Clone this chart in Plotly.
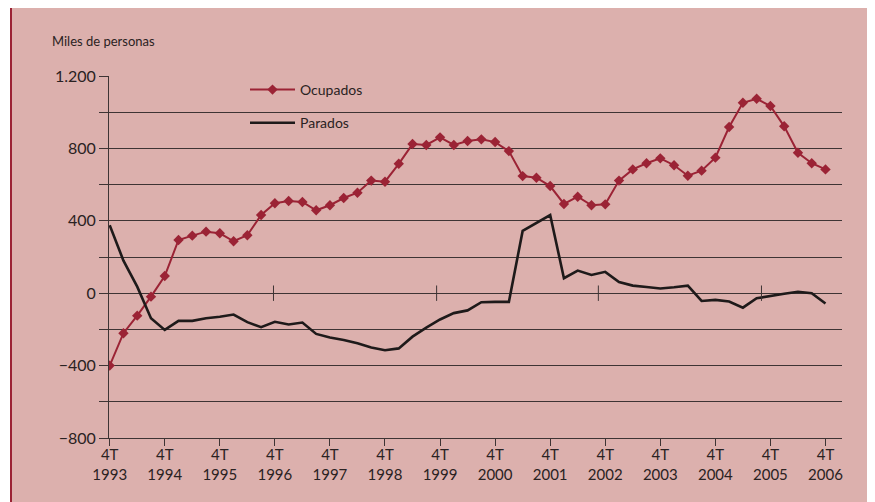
import plotly.graph_objects as go

# ---- data ----
years = list(range(1993, 2007))
x_tick_labels = [f"4T<br>{y}" for y in years]

ocupados = [-400, -221, -124, -19, 95, 294, 318, 340, 331, 287, 320, 432, 497, 509,
            504, 458, 486, 526, 555, 622, 616, 715, 824, 819, 861, 819, 841, 850,
            835, 785, 647, 638, 592, 493, 533, 486, 491, 622, 684, 718, 745, 707,
            649, 677, 749, 918, 1052, 1074, 1034, 922, 776, 718, 684]
parados = [376, 180, 36, -138, -203, -153, -153, -138, -130, -118, -160, -188, -158,
           -173, -162, -225, -245, -258, -277, -300, -315, -305, -240, -190, -145,
           -110, -95, -50, -48, -48, 344, 388, 432, 83, 125, 101, 118, 62, 42, 34,
           26, 33, 42, -43, -37, -46, -80, -28, -14, -3, 8, 0, -57]

y_tick_values = list(range(-800, 1201, 200))
y_tick_labels = ["\u2212800", "", "\u2212400", "", "0", "", "400", "", "800", "", "1.200"]

# positions of the small marks drawn across the zero line (quarter units)
zero_marks = [11.9, 23.75, 35.5, 47.35]

quarters = list(range(len(ocupados)))
x_tick_values = quarters[::4]

# ---- styles ----
PINK = "#dcb0ad"
RED = "#9b2335"
DARK = "#2a2222"
GRID = "#3e3434"
FONT = "Lato"

W, H = 875, 502
OFF = 8  # page body margin of the generated html
PL, PT, PWID, PHGT = 109, 76, 733, 362  # plot area in reference pixels
ML = PL - OFF
MT = PT - OFF
MR = W - ML - PWID
MB = H - MT - PHGT


def px_x(p):
    return (p - PL) / PWID


def px_y(q):
    return (PT + PHGT - q) / PHGT


fig = go.Figure()

fig.add_trace(go.Scatter(
    x=quarters, y=ocupados, name="Ocupados", mode="lines+markers",
    line=dict(color=RED, width=2),
    marker=dict(symbol="diamond", size=8, color=RED),
    legendgroup="a",
))
fig.add_trace(go.Scatter(
    x=quarters, y=parados, name="Parados", mode="lines",
    line=dict(color="#1e1a1a", width=2.6),
    legendgroup="b",
))
fig.add_trace(go.Scatter(
    x=zero_marks, y=[0] * len(zero_marks), mode="markers", showlegend=False,
    hoverinfo="skip",
    marker=dict(symbol="line-ns", size=11, line=dict(width=1, color=GRID)),
))

fig.update_layout(
    width=W, height=H,
    margin=dict(l=ML, r=MR, t=MT, b=MB),
    paper_bgcolor="white",
    plot_bgcolor=PINK,
    font=dict(family=FONT, color=DARK),
    showlegend=True,
    legend=dict(
        x=px_x(245), y=px_y(74), xanchor="left", yanchor="top",
        bgcolor="rgba(0,0,0,0)", font=dict(size=14, color=DARK),
        traceorder="grouped", tracegroupgap=12, itemwidth=45,
    ),
    shapes=[dict(
        type="rect", xref="paper", yref="paper",
        x0=px_x(11), x1=px_x(900), y0=px_y(530), y1=px_y(6),
        fillcolor=PINK, line=dict(color=RED, width=2), layer="below",
    )],
    annotations=[dict(
        text="Miles de personas", xref="paper", yref="paper",
        x=px_x(50), y=px_y(41), xanchor="left", yanchor="middle",
        showarrow=False, font=dict(size=13, color=DARK, family=FONT),
    )],
)

fig.update_xaxes(
    range=[-0.05, 53.2],
    tickvals=x_tick_values, ticktext=x_tick_labels,
    showgrid=False, zeroline=False,
    showline=True, linecolor=GRID, linewidth=1,
    ticks="outside", ticklen=7, tickcolor=GRID, tickwidth=1,
    tickfont=dict(size=15, color=DARK),
    ticklabelstandoff=-4,
)
fig.update_yaxes(
    range=[-800, 1200],
    tickvals=y_tick_values, ticktext=y_tick_labels,
    showgrid=True, gridcolor=GRID, gridwidth=1,
    zeroline=True, zerolinecolor=GRID, zerolinewidth=1,
    showline=True, linecolor=GRID, linewidth=1,
    ticks="outside", ticklen=9, tickcolor=GRID, tickwidth=1,
    tickfont=dict(size=16, color=DARK),
)

fig.write_html("out.html")
